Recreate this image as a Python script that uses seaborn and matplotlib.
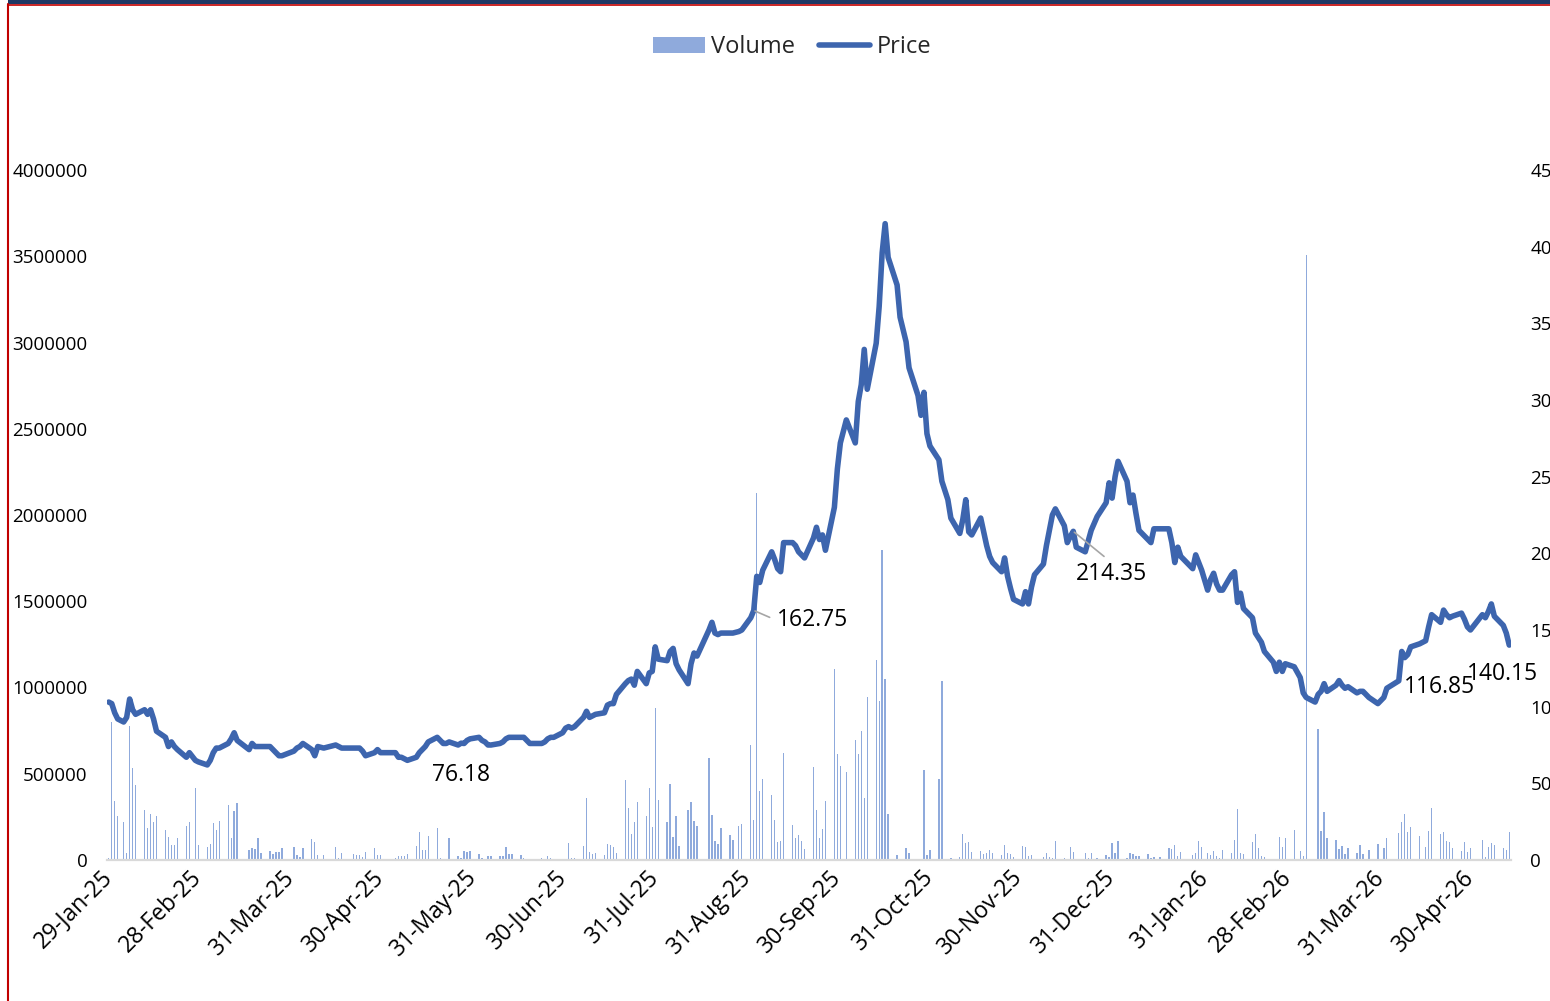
import pandas as pd
import matplotlib
matplotlib.use("Agg")
import matplotlib.pyplot as plt
import matplotlib.dates as mdates
from matplotlib.lines import Line2D
from matplotlib.patches import Patch, Rectangle
import seaborn as sns


# ─────────────────────────────────────────────
# Trading calendar (NSE style: weekdays minus holidays, plus budget sessions)
# ─────────────────────────────────────────────

holidays = [
    "2025-02-26", "2025-03-14", "2025-03-31", "2025-04-10", "2025-04-14",
    "2025-04-18", "2025-05-01", "2025-08-15", "2025-08-27", "2025-10-02",
    "2025-10-22", "2025-11-05", "2025-12-25", "2026-01-15", "2026-01-26",
    "2026-03-03", "2026-03-26", "2026-03-31", "2026-04-03", "2026-04-14",
    "2026-05-01",
]
special_sessions = ["2025-02-01", "2026-02-01"]

# ─────────────────────────────────────────────
# Closing price, one list per month
# ─────────────────────────────────────────────

price_2025_01 = [103, 102, 96]
price_2025_02 = [92, 90, 93, 105, 98, 95, 98, 95, 98, 92, 84, 80, 74, 77, 74, 72, 67, 70, 65, 64]
price_2025_03 = [62, 65, 70, 73, 73, 76, 79, 83, 78, 72, 76, 74, 74, 74, 74, 72, 70, 68, 68]
price_2025_04 = [71, 73, 74, 76, 72, 68, 74, 73, 75, 74, 73, 73, 73, 73, 71, 68, 70, 72, 70]
price_2025_05 = [70, 70, 67, 67, 66, 65, 67, 70, 72, 74, 77, 80, 78, 76, 76, 77, 75, 76.18, 76, 78, 79]
price_2025_06 = [80, 78, 77, 75, 75, 76, 77, 79, 80, 80, 80, 80, 78, 76, 76, 76, 77, 79, 80, 80, 83]
price_2025_07 = [86, 87, 86, 87, 93, 97, 93, 94, 95, 96, 101, 102, 102, 108, 115, 117, 118, 114,
                 123, 115, 122, 123, 139]
price_2025_08 = [131, 130, 136, 138, 128, 124, 115, 128, 135, 133, 150, 155, 148, 147, 148, 148,
                 148, 149, 150]
price_2025_09 = [158, 162.75, 185, 181, 189, 201, 196, 190, 188, 207, 207, 205, 201, 199, 197,
                 210, 217, 209, 212, 202, 230, 255]
price_2025_10 = [272, 287, 272, 299, 310, 333, 307, 337, 361, 396, 415, 393, 375, 354, 338, 321,
                 303, 290, 305, 278, 270]
price_2025_11 = [261, 247, 235, 223, 213, 222, 235, 214, 212, 223, 214, 205, 198, 194, 188, 197,
                 185, 177, 170]
price_2025_12 = [167, 175, 167, 178, 186, 193, 205, 215, 225, 229, 218, 207, 211, 214.35, 204,
                 201, 208, 215, 224, 233, 246, 236]
price_2026_01 = [250, 260, 247, 233, 238, 226, 215, 209, 207, 216, 216, 216, 207, 194, 204, 198,
                 190, 199, 194, 189]
price_2026_02 = [176, 183, 187, 180, 176, 176, 186, 188, 168, 174, 164, 158, 148, 145, 142, 136,
                 129, 123, 129, 123, 128]
price_2026_03 = [126, 119, 109, 106, 103, 108, 110, 115, 110, 114, 117, 114, 112, 113, 109, 110,
                 110, 106, 102]
price_2026_04 = [106, 112, 116.85, 136, 132, 134, 139, 141, 143, 152, 160, 155, 163, 160, 158,
                 159, 161, 157, 152, 150]
price_2026_05 = [160, 158, 162, 167, 159, 153, 148, 140.15]

# ─────────────────────────────────────────────
# Traded volume (thousands of shares), one list per month
# ─────────────────────────────────────────────

vol_2025_01 = [10, 802, 342]
vol_2025_02 = [255, 222, 39, 777, 531, 435, 290, 187, 269, 222, 255, 174, 133, 87, 85, 129, 195,
               222, 415, 87]
vol_2025_03 = [77, 95, 214, 172, 226, 319, 129, 284, 330, 58, 71, 62, 126, 39, 52, 33, 46, 46, 68]
vol_2025_04 = [75, 29, 17, 68, 122, 102, 29, 29, 75, 10, 39, 37, 29, 29, 17, 46, 71, 29, 29]
vol_2025_05 = [5, 10, 23, 23, 23, 33, 83, 164, 58, 58, 141, 187, 14, 4, 4, 129, 23, 14, 52, 48, 52]
vol_2025_06 = [37, 14, 5, 23, 23, 23, 23, 77, 37, 37, 27, 10, 8, 4, 8, 14, 4, 23, 10, 8, 4]
vol_2025_07 = [4, 100, 14, 10, 81, 361, 46, 33, 39, 29, 91, 87, 75, 39, 464, 303, 153, 222, 336,
               255, 415, 191, 879]
vol_2025_08 = [350, 222, 439, 133, 255, 81, 290, 336, 226, 197, 589, 261, 110, 95, 187, 145, 114,
               197, 207]
vol_2025_09 = [667, 230, 2130, 400, 468, 377, 230, 106, 110, 622, 203, 129, 145, 110, 62, 539,
               288, 129, 182, 342, 1107, 612]
vol_2025_10 = [545, 512, 694, 612, 748, 357, 947, 1160, 922, 1800, 1050, 269, 29, 5, 71, 39, 3, 4,
               522, 29, 56]
vol_2025_11 = [471, 1040, 4, 10, 17, 153, 98, 106, 46, 52, 33, 39, 56, 42, 29, 87, 42, 33, 17]
vol_2025_12 = [79, 77, 23, 29, 8, 17, 42, 17, 14, 110, 14, 5, 77, 48, 5, 41, 14, 41, 14, 29, 19,
               100]
vol_2026_01 = [42, 110, 14, 41, 33, 23, 23, 33, 14, 17, 17, 71, 66, 87, 23, 46, 29, 41, 110, 75]
vol_2026_02 = [41, 29, 52, 23, 14, 58, 41, 116, 298, 42, 33, 104, 149, 71, 23, 19, 8, 5, 135, 77,
               128]
vol_2026_03 = [175, 50, 23, 3507, 5, 761, 168, 278, 126, 116, 62, 81, 33, 71, 43, 87, 37, 56, 95]
vol_2026_04 = [71, 129, 156, 220, 265, 162, 191, 139, 77, 168, 300, 153, 162, 110, 104, 68, 52,
               104, 48, 68]
vol_2026_05 = [116, 17, 75, 98, 87, 71, 60, 162]

tick_dates = [
    "2025-01-29", "2025-02-28", "2025-03-31", "2025-04-30", "2025-05-31", "2025-06-30",
    "2025-07-31", "2025-08-31", "2025-09-30", "2025-10-31", "2025-11-30", "2025-12-31",
    "2026-01-31", "2026-02-28", "2026-03-31", "2026-04-30",
]

# points that carry a data label
label_dates = ["2025-05-27", "2025-09-02", "2025-12-18", "2026-04-06", "2026-05-13"]


def build_frame():
    dates = pd.bdate_range("2025-01-29", "2026-05-13")
    dates = dates.drop(pd.to_datetime(holidays)).union(pd.to_datetime(special_sessions))

    prices = (price_2025_01 + price_2025_02 + price_2025_03 + price_2025_04 + price_2025_05
              + price_2025_06 + price_2025_07 + price_2025_08 + price_2025_09 + price_2025_10
              + price_2025_11 + price_2025_12 + price_2026_01 + price_2026_02 + price_2026_03
              + price_2026_04 + price_2026_05)
    vols = (vol_2025_01 + vol_2025_02 + vol_2025_03 + vol_2025_04 + vol_2025_05 + vol_2025_06
            + vol_2025_07 + vol_2025_08 + vol_2025_09 + vol_2025_10 + vol_2025_11 + vol_2025_12
            + vol_2026_01 + vol_2026_02 + vol_2026_03 + vol_2026_04 + vol_2026_05)

    assert len(dates) == len(prices) == len(vols), (len(dates), len(prices), len(vols))
    return pd.DataFrame({"date": dates, "price": prices, "volume": [v * 1000 for v in vols]})


# ─────────────────────────────────────────────
# Plot
# ─────────────────────────────────────────────

BAR_COLOR = "#8FAADC"
LINE_COLOR = "#3D65AE"

sns.set_theme(style="white")
plt.rcParams["font.family"] = ["Open Sans", "DejaVu Sans"]

df = build_frame()

fig = plt.figure(figsize=(15.5, 10.01), dpi=100)
ax = fig.add_axes([107 / 1550, 141 / 1001, 1404 / 1550, 690 / 1001])

ax.bar(df["date"], df["volume"], width=0.45, color=BAR_COLOR, linewidth=0)
ax.set_ylim(0, 4000000)
ax.set_yticks(range(0, 4000001, 500000))
ax.ticklabel_format(style="plain", axis="y", useOffset=False)

ax2 = ax.twinx()
sns.lineplot(data=df, x="date", y="price", ax=ax2, color=LINE_COLOR, linewidth=4.0,
             solid_joinstyle="round", solid_capstyle="round")
ax2.set_ylim(0, 450)
ax2.set_yticks(range(0, 451, 50))
ax2.set_ylabel("")

ax.set_xlim(pd.Timestamp("2025-01-29") - pd.Timedelta(hours=14),
            pd.Timestamp("2026-05-13") + pd.Timedelta(hours=14))
ax.set_xticks(pd.to_datetime(tick_dates))
ax.xaxis.set_major_formatter(mdates.DateFormatter("%d-%b-%y"))
for lbl in ax.get_xticklabels():
    lbl.set_rotation(45)
    lbl.set_ha("right")
    lbl.set_va("center")
    lbl.set_rotation_mode("anchor")

ax.tick_params(axis="x", length=0, pad=10, labelsize=16.5, labelcolor="black")
ax.tick_params(axis="y", length=0, pad=14, labelsize=13.5, labelcolor="black")
ax2.tick_params(axis="y", length=0, pad=14, labelsize=13.5, labelcolor="black")
ax.set_xlabel("")
ax.set_ylabel("")

for side in ["top", "left", "right"]:
    ax.spines[side].set_visible(False)
ax.spines["bottom"].set_color("#D9D9D9")
ax.spines["bottom"].set_linewidth(1.6)
for side in ax2.spines:
    ax2.spines[side].set_visible(False)

# data labels: offset (pixels), alignment, leader-line anchor on the text
label_offsets = [(0, -32, "center", None), (23, -10, "left", (0, 0.5)),
                 (38, -43, "center", (0.5, 1)), (5, -6, "left", None),
                 (-7, -29, "center", None)]
lookup = df.set_index("date")["price"]
for d, (dx, dy, ha, rel) in zip(label_dates, label_offsets):
    d = pd.Timestamp(d)
    p = lookup[d]
    kw = {}
    if rel is not None:
        kw["arrowprops"] = dict(arrowstyle="-", color="#A6A6A6", lw=1.2,
                                shrinkA=3, shrinkB=1, relpos=rel)
    ax2.annotate(f"{p:.2f}", xy=(d, p), xytext=(dx, dy), textcoords="offset pixels",
                 ha=ha, va="center", fontsize=16.5, color="black", **kw)

# legend on top
handles = [Patch(facecolor=BAR_COLOR, edgecolor="none"),
           Line2D([0], [0], color=LINE_COLOR, lw=4.0)]
fig.legend(handles, ["Volume", "Price"], loc="center", bbox_to_anchor=(0.511, 0.953),
           ncol=2, frameon=False, fontsize=17, handlelength=2.2, handleheight=0.7,
           handletextpad=0.25, columnspacing=1.0)

# frame decoration of the source sheet
fig.add_artist(Rectangle((8 / 1550, 1 - 3.5 / 1001), 1, 3.5 / 1001,
                         transform=fig.transFigure, color="#1F3864", lw=0))
fig.add_artist(Line2D([8 / 1550, 1], [1 - 4.5 / 1001] * 2, transform=fig.transFigure,
                      color="#C00000", lw=1.2))
fig.add_artist(Line2D([8 / 1550] * 2, [0, 1 - 4 / 1001], transform=fig.transFigure,
                      color="#C00000", lw=1.5))

fig.savefig("out.png", dpi=100)
plt.close(fig)
